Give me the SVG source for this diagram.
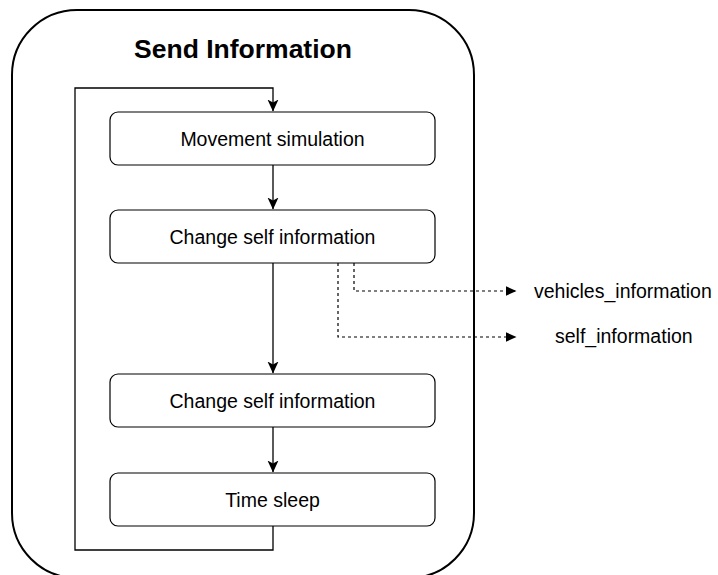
<svg xmlns="http://www.w3.org/2000/svg" width="718" height="575" viewBox="0 0 718 575">
  <style>
    .box { fill: #ffffff; stroke: #000000; stroke-width: 1.2; }
    .lbl { font-family: "Liberation Sans", Arial, sans-serif; font-size: 19.5px; fill: #000000; text-anchor: middle; }
    .out { font-family: "Liberation Sans", Arial, sans-serif; font-size: 19.5px; fill: #000000; }
    .flow { fill: none; stroke: #000000; stroke-width: 1.3; }
    .dash { fill: none; stroke: #000000; stroke-width: 1.2; stroke-dasharray: 3 3; }
  </style>
  <defs>
    <!-- solid flow arrowhead with a slight notch -->
    <marker id="arrow" viewBox="0 0 12 12" refX="11.5" refY="6" markerWidth="12" markerHeight="12" markerUnits="userSpaceOnUse" orient="auto">
      <path d="M0,0.5 L12,6 L0,11.5 L3,6 Z" fill="#000000"/>
    </marker>
    <!-- plain triangle for the dashed outputs -->
    <marker id="tri" viewBox="0 0 11 10" refX="10.5" refY="5" markerWidth="11" markerHeight="10" markerUnits="userSpaceOnUse" orient="auto">
      <path d="M0,0 L11,5 L0,10 Z" fill="#000000"/>
    </marker>
  </defs>

  <rect width="718" height="575" fill="#ffffff"/>

  <g id="container">
    <rect x="12" y="10" width="462" height="568" rx="65" ry="65" fill="none" stroke="#000000" stroke-width="2"/>
    <text x="243" y="58" font-family="'Liberation Sans', Arial, sans-serif" font-size="26.5" font-weight="bold" text-anchor="middle">Send Information</text>
  </g>

  <g id="connectors">
    <path class="flow" d="M273,165 V209" marker-end="url(#arrow)"/>
    <path class="flow" d="M273,263 V373" marker-end="url(#arrow)"/>
    <path class="flow" d="M273,427 V472" marker-end="url(#arrow)"/>
    <path class="flow" d="M273,526 V550 H75 V88 H273 V111" marker-end="url(#arrow)"/>
    <path class="dash" d="M354,263 V291 H516" marker-end="url(#tri)"/>
    <path class="dash" d="M338,263 V337 H516" marker-end="url(#tri)"/>
  </g>

  <g id="movement-simulation">
    <rect class="box" x="110" y="112" width="325" height="53" rx="8"/>
    <text class="lbl" x="272.5" y="146">Movement simulation</text>
  </g>
  <g id="change-self-information-1">
    <rect class="box" x="110" y="210" width="325" height="53" rx="8"/>
    <text class="lbl" x="272.5" y="244">Change self information</text>
  </g>
  <g id="change-self-information-2">
    <rect class="box" x="110" y="374" width="325" height="53" rx="8"/>
    <text class="lbl" x="272.5" y="408">Change self information</text>
  </g>
  <g id="time-sleep">
    <rect class="box" x="110" y="473" width="325" height="53" rx="8"/>
    <text class="lbl" x="272.5" y="507">Time sleep</text>
  </g>

  <g id="vehicles-information">
    <text class="out" x="534" y="298">vehicles_information</text>
  </g>
  <g id="self-information">
    <text class="out" x="555" y="343">self_information</text>
  </g>
</svg>
